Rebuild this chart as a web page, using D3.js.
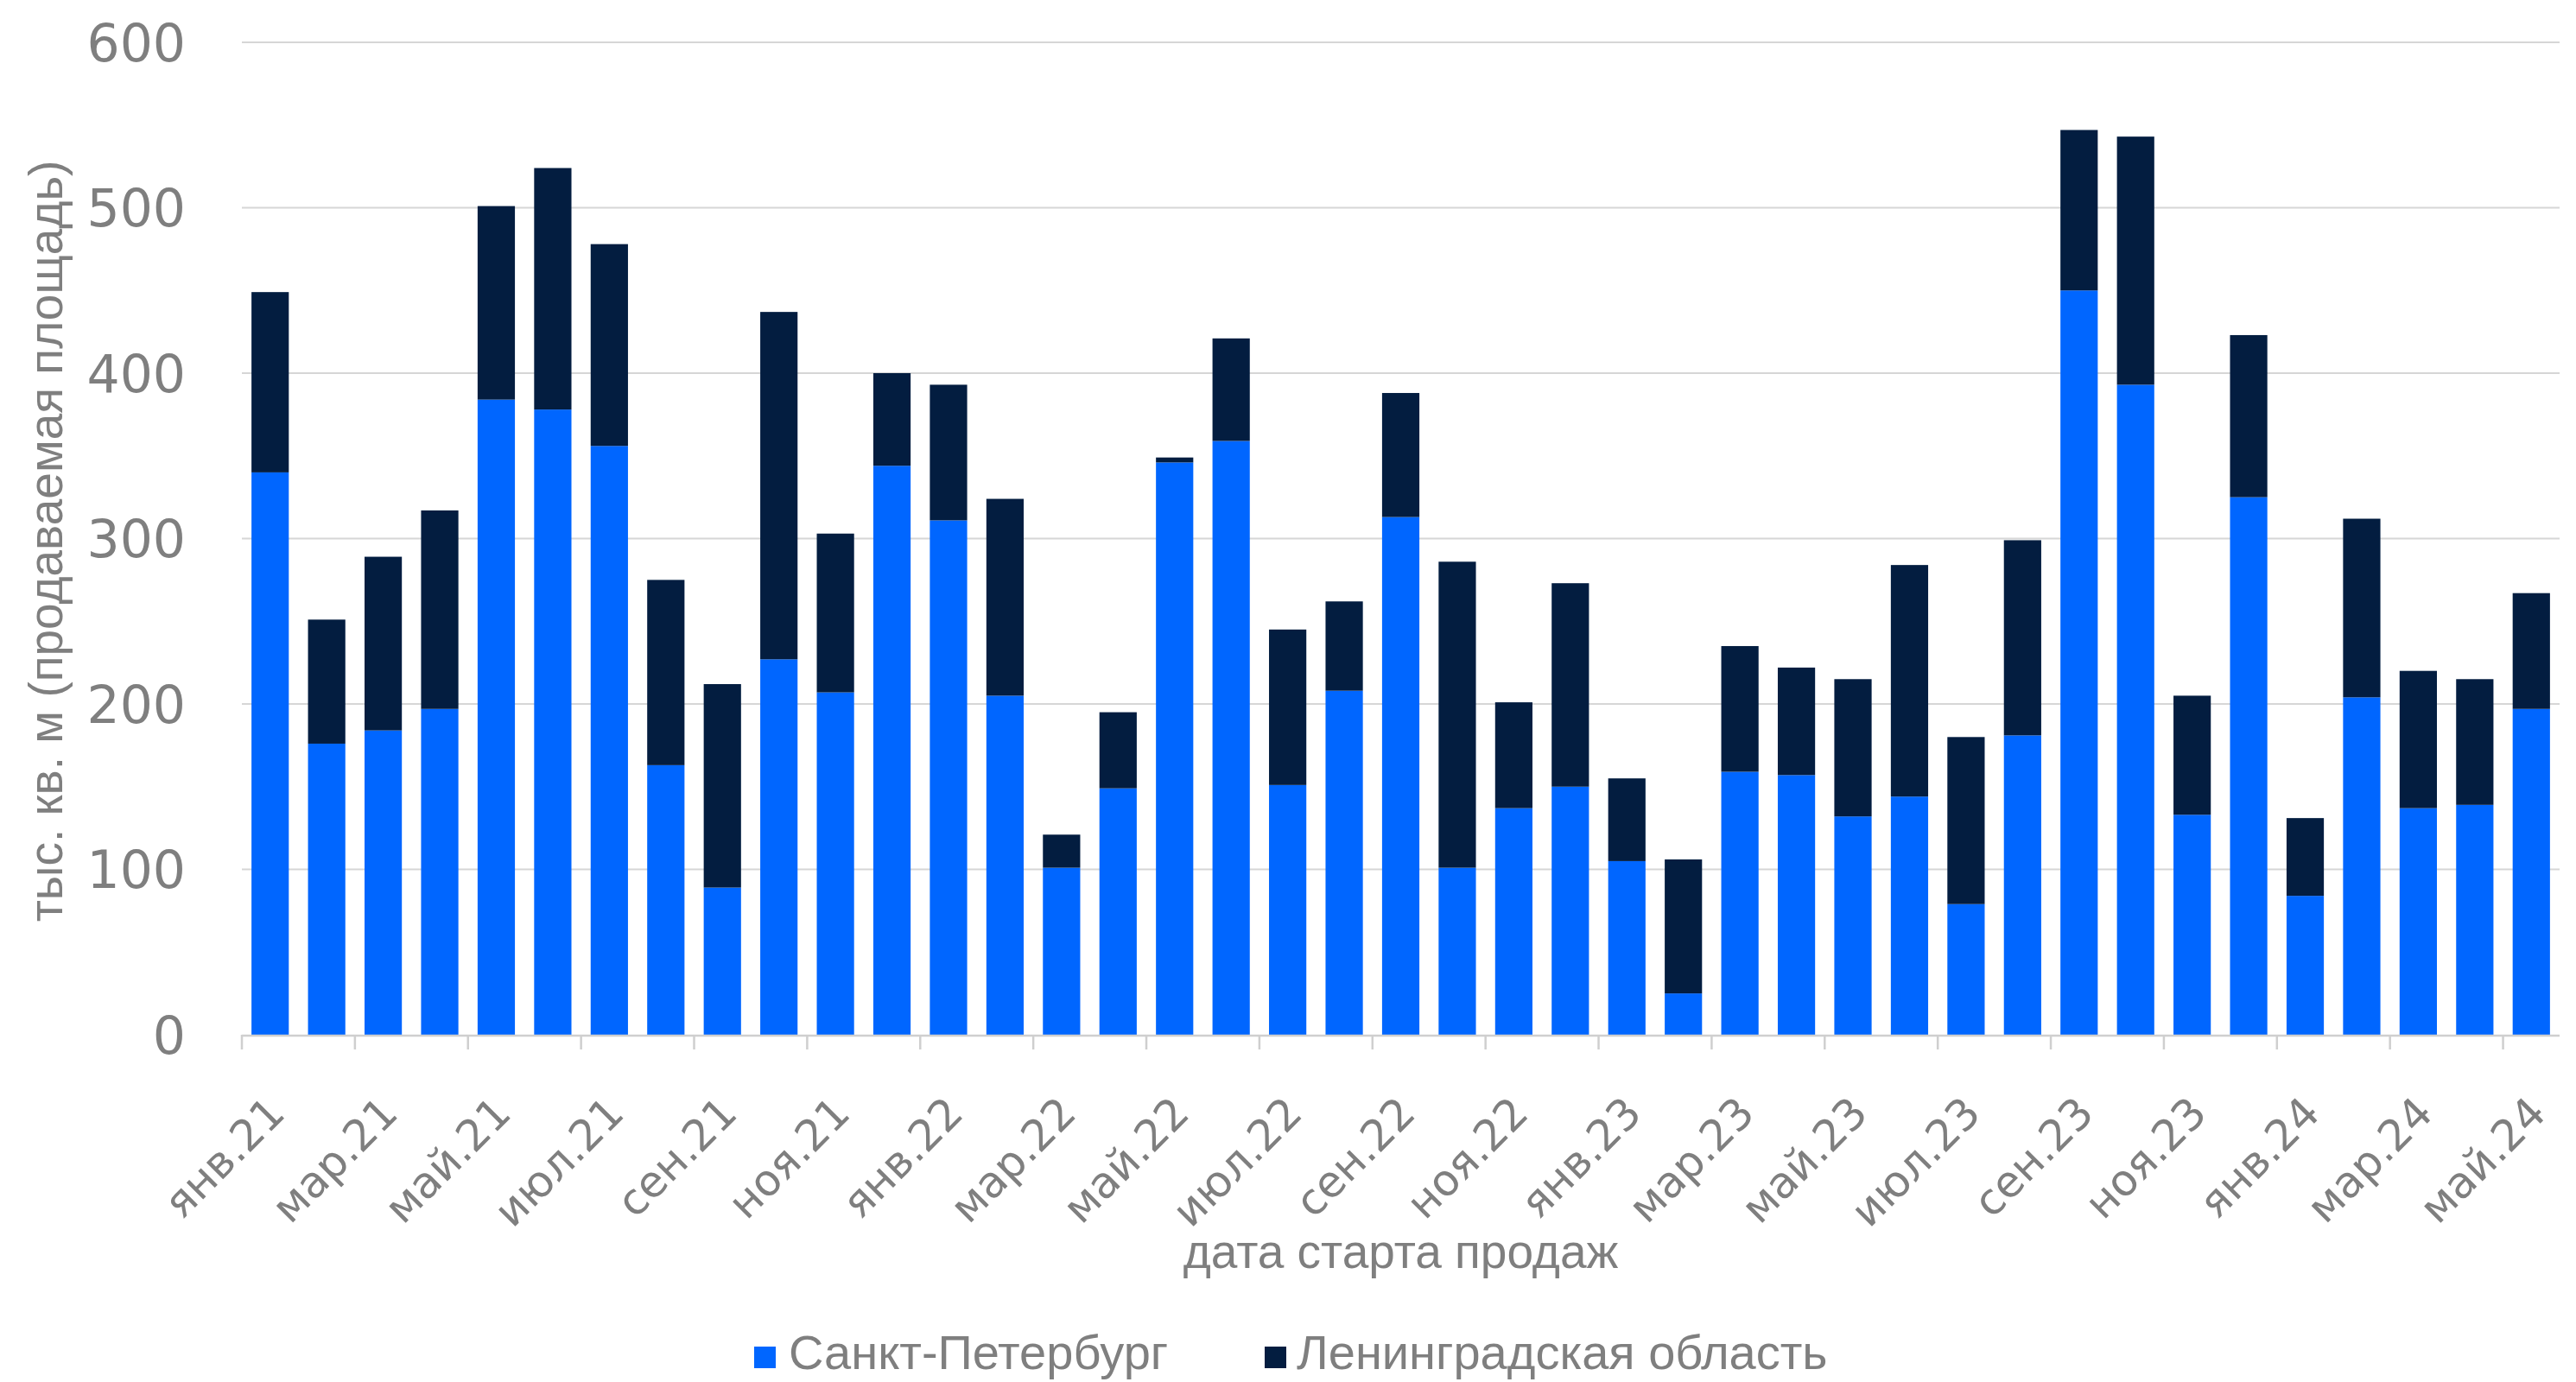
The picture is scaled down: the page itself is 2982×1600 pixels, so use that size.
<!DOCTYPE html>
<html lang="ru">
<head>
<meta charset="utf-8">
<script src="https://cdn.jsdelivr.net/npm/d3@7/dist/d3.min.js"></script>
<style>
  html, body { margin: 0; padding: 0; background: #ffffff; }
  svg { display: block; }
</style>
</head>
<body>
<svg id="chart" width="2982" height="1600"></svg>
<script>
// Months of sales start, Jan 2021 – May 2024
const months = [
  "янв.21","фев.21","мар.21","апр.21","май.21","июн.21","июл.21","авг.21","сен.21","окт.21","ноя.21","дек.21",
  "янв.22","фев.22","мар.22","апр.22","май.22","июн.22","июл.22","авг.22","сен.22","окт.22","ноя.22","дек.22",
  "янв.23","фев.23","мар.23","апр.23","май.23","июн.23","июл.23","авг.23","сен.23","окт.23","ноя.23","дек.23",
  "янв.24","фев.24","мар.24","апр.24","май.24"
];

// Saint Petersburg, thousand sq. m of saleable area
const spb = [
  340,176,184,197,384,378,356,163, 89,227,207,344,
  311,205,101,149,346,359,151,208,313,101,137,150,
  105, 25,159,157,132,144, 79,181,450,393,133,325,
   84,204,137,139,197
];

// Leningrad Oblast, thousand sq. m of saleable area
const lo = [
  109, 75,105,120,117,146,122,112,123,210, 96, 56,
   82,119, 20, 46,  3, 62, 94, 54, 75,185, 64,123,
   50, 81, 76, 65, 83,140,101,118, 97,150, 72, 98,
   47,108, 83, 76, 70
];

const yTicks = [0, 100, 200, 300, 400, 500, 600];

const seriesNames = ["Санкт-Петербург", "Ленинградская область"];
const seriesColors = ["#0066FF", "#031D40"];

const yTitle = "тыс. кв. м (продаваемая площадь)";
const xTitle = "дата старта продаж";

// ---- layout ----
const plot = { left: 280, right: 2963, top: 49, bottom: 1198 };
const textGray = "#7f7f7f";
const gridGray = "#d6d6d6";

const svg = d3.select("#chart");

const rows = months.map((m, i) => ({ month: m, spb: spb[i], lo: lo[i] }));
const stack = d3.stack().keys(["spb", "lo"]);
const layers = stack(rows);

const x = d3.scaleBand()
  .domain(months)
  .range([plot.left, plot.right])
  .paddingInner(0.34)
  .paddingOuter(0.17);

const y = d3.scaleLinear()
  .domain([0, 600])
  .range([plot.bottom, plot.top]);

// horizontal gridlines
svg.append("g")
  .selectAll("line")
  .data(yTicks.filter(t => t > 0))
  .join("line")
  .attr("x1", plot.left)
  .attr("x2", plot.right)
  .attr("y1", d => y(d))
  .attr("y2", d => y(d))
  .attr("stroke", gridGray)
  .attr("stroke-width", 2);

// y tick labels
svg.append("g")
  .selectAll("text")
  .data(yTicks)
  .join("text")
  .attr("x", 215)
  .attr("y", d => y(d))
  .attr("dy", "0.36em")
  .attr("text-anchor", "end")
  .attr("font-family", "'DejaVu Sans', sans-serif")
  .attr("font-size", 60)
  .attr("fill", textGray)
  .text(d => d);

// stacked bars
svg.append("g")
  .selectAll("g")
  .data(layers)
  .join("g")
  .attr("fill", (d, i) => seriesColors[i])
  .selectAll("rect")
  .data(d => d.map(v => ({ v, month: v.data.month })))
  .join("rect")
  .attr("x", d => x(d.month))
  .attr("width", x.bandwidth())
  .attr("y", d => y(d.v[1]))
  .attr("height", d => y(d.v[0]) - y(d.v[1]));

// x axis line with tick marks every second month boundary
const axisG = svg.append("g");
axisG.append("line")
  .attr("x1", plot.left)
  .attr("x2", plot.right)
  .attr("y1", plot.bottom + 1)
  .attr("y2", plot.bottom + 1)
  .attr("stroke", "#cfcfcf")
  .attr("stroke-width", 2.5);

const step = x.step();
const tickIdx = d3.range(0, months.length + 1, 2);
axisG.selectAll("line.tick")
  .data(tickIdx)
  .join("line")
  .attr("class", "tick")
  .attr("x1", i => plot.left + i * step)
  .attr("x2", i => plot.left + i * step)
  .attr("y1", plot.bottom)
  .attr("y2", plot.bottom + 17)
  .attr("stroke", "#cfcfcf")
  .attr("stroke-width", 2.5);

// rotated month labels (every second month)
svg.append("g")
  .selectAll("text")
  .data(months.filter((m, i) => i % 2 === 0))
  .join("text")
  .attr("transform", d => `translate(${x(d) + x.bandwidth() / 2 - 6},${plot.bottom + 68}) rotate(-45)`)
  .attr("dy", "0.72em")
  .attr("text-anchor", "end")
  .attr("font-family", "'DejaVu Sans', sans-serif")
  .attr("font-size", 50)
  .attr("fill", textGray)
  .text(d => d);

// axis titles
svg.append("text")
  .attr("transform", `translate(72,${(plot.top + plot.bottom) / 2 + 3}) rotate(-90)`)
  .attr("text-anchor", "middle")
  .attr("font-family", "'Liberation Sans', Arial, sans-serif")
  .attr("font-size", 55)
  .attr("fill", textGray)
  .text(yTitle);

svg.append("text")
  .attr("x", (plot.left + plot.right) / 2)
  .attr("y", 1468)
  .attr("text-anchor", "middle")
  .attr("font-family", "'Liberation Sans', Arial, sans-serif")
  .attr("font-size", 55)
  .attr("fill", textGray)
  .text(xTitle);

// legend
const legendItems = [
  { name: seriesNames[0], color: seriesColors[0], sx: 873, tx: 913 },
  { name: seriesNames[1], color: seriesColors[1], sx: 1464, tx: 1501 }
];
const legend = svg.append("g");
const lg = legend.selectAll("g").data(legendItems).join("g");
lg.append("rect")
  .attr("x", d => d.sx)
  .attr("y", 1559)
  .attr("width", 25)
  .attr("height", 25)
  .attr("fill", d => d.color);
lg.append("text")
  .attr("x", d => d.tx)
  .attr("y", 1585)
  .attr("font-family", "'Liberation Sans', Arial, sans-serif")
  .attr("font-size", 56)
  .attr("fill", textGray)
  .text(d => d.name);
</script>
</body>
</html>
